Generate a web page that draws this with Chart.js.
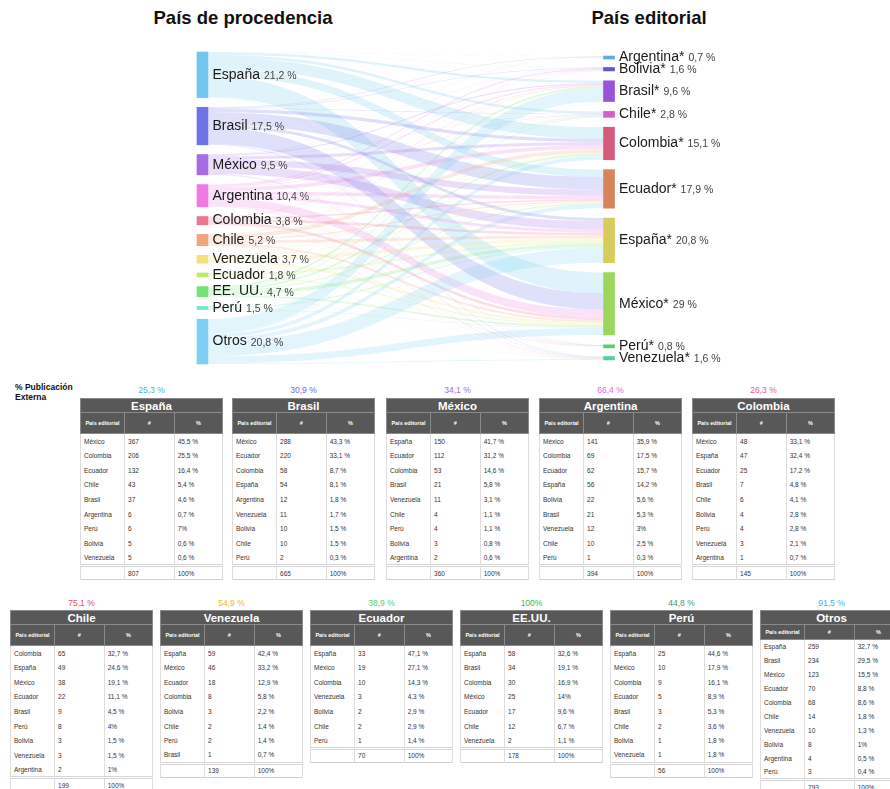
<!DOCTYPE html>
<html lang="es">
<head>
<meta charset="UTF-8">
<title>País de procedencia / País editorial</title>
<script src="https://cdn.jsdelivr.net/npm/chart.js@4.4.0/dist/chart.umd.min.js"></script>
<style>
* { box-sizing: border-box; margin: 0; padding: 0; }
body {
  width: 890px; height: 789px; overflow: hidden; position: relative;
  background: #fff; font-family: "Liberation Sans", Arial, sans-serif;
}
.title { position: absolute; top: 7px; width: 220px; text-align: center; font-weight: bold; font-size: 18.5px; color: #111; }
#sankeyBox { position: absolute; left: 0; top: 0; width: 890px; height: 372px; }
#extLabel { position: absolute; left: 15px; top: 382px; font-size: 8.5px; font-weight: bold; line-height: 10px; color: #111; }
.share { position: absolute; width: 143px; text-align: center; font-size: 8.5px; }
table.t { position: absolute; width: 143px; border-collapse: collapse; table-layout: fixed; background: #fff; border: 1px solid #cfcfcf; }
table.t th { background: #585858; color: #fff; font-weight: bold; border: 1px solid #8a8a8a; }
table.t th.name { height: 14px; font-size: 11.5px; line-height: 12px; }
table.t th.sub { height: 21px; font-size: 5.5px; }
table.t td { height: 14.7px; font-size: 6.5px; color: #333; padding-left: 3px; border-left: 1px solid #ddd; border-right: 1px solid #ddd; }
table.t tr.tot td { border-top: 3px double #d6d6d6; height: 14px; }
table.t.compact th.sub { height: 15px; }
table.t.compact td { height: 14px; }
</style>
</head>
<body>
<div class="title" style="left:133px">País de procedencia</div>
<div class="title" style="left:539px">País editorial</div>
<div id="sankeyBox"><canvas id="sankey"></canvas></div>
<div id="extLabel">% Publicación<br>Externa</div>
<div id="tables"></div>

<script>
// ---------- data ----------
const origins = ['España', 'Brasil', 'México', 'Argentina', 'Colombia', 'Chile', 'Venezuela', 'Ecuador', 'EE. UU.', 'Perú', 'Otros'];
const tableNames = ['España', 'Brasil', 'México', 'Argentina', 'Colombia', 'Chile', 'Venezuela', 'Ecuador', 'EE.UU.', 'Perú', 'Otros'];
const editorials = ['Argentina', 'Bolivia', 'Brasil', 'Chile', 'Colombia', 'Ecuador', 'España', 'México', 'Perú', 'Venezuela'];
const externalShare = ['25,3 %', '30,9 %', '34,1 %', '66,4 %', '26,3 %', '75,1 %', '54,9 %', '38,9 %', '100%', '44,8 %', '91,5 %'];

// rows of each table: país editorial, #, %
const rowsEspana = [['México', 367, '45,5 %'], ['Colombia', 206, '25,5 %'], ['Ecuador', 132, '16,4 %'], ['Chile', 43, '5,4 %'], ['Brasil', 37, '4,6 %'], ['Argentina', 6, '0,7 %'], ['Perú', 6, '7%'], ['Bolivia', 5, '0,6 %'], ['Venezuela', 5, '0,6 %']];
const rowsBrasil = [['México', 288, '43,3 %'], ['Ecuador', 220, '33,1 %'], ['Colombia', 58, '8,7 %'], ['España', 54, '8,1 %'], ['Argentina', 12, '1,8 %'], ['Venezuela', 11, '1,7 %'], ['Bolivia', 10, '1,5 %'], ['Chile', 10, '1,5 %'], ['Perú', 2, '0,3 %']];
const rowsMexico = [['España', 150, '41,7 %'], ['Ecuador', 112, '31,2 %'], ['Colombia', 53, '14,6 %'], ['Brasil', 21, '5,8 %'], ['Venezuela', 11, '3,1 %'], ['Chile', 4, '1,1 %'], ['Perú', 4, '1,1 %'], ['Bolivia', 3, '0,8 %'], ['Argentina', 2, '0,6 %']];
const rowsArgentina = [['México', 141, '35,9 %'], ['Colombia', 69, '17,5 %'], ['Ecuador', 62, '15,7 %'], ['España', 56, '14,2 %'], ['Bolivia', 22, '5,6 %'], ['Brasil', 21, '5,3 %'], ['Venezuela', 12, '3%'], ['Chile', 10, '2,5 %'], ['Perú', 1, '0,3 %']];
const rowsColombia = [['México', 48, '33,1 %'], ['España', 47, '32,4 %'], ['Ecuador', 25, '17,2 %'], ['Brasil', 7, '4,8 %'], ['Chile', 6, '4,1 %'], ['Bolivia', 4, '2,8 %'], ['Perú', 4, '2,8 %'], ['Venezuela', 3, '2,1 %'], ['Argentina', 1, '0,7 %']];
const rowsChile = [['Colombia', 65, '32,7 %'], ['España', 49, '24,6 %'], ['México', 38, '19,1 %'], ['Ecuador', 22, '11,1 %'], ['Brasil', 9, '4,5 %'], ['Perú', 8, '4%'], ['Bolivia', 3, '1,5 %'], ['Venezuela', 3, '1,5 %'], ['Argentina', 2, '1%']];
const rowsVenezuela = [['España', 59, '42,4 %'], ['México', 46, '33,2 %'], ['Ecuador', 18, '12,9 %'], ['Colombia', 8, '5,8 %'], ['Bolivia', 3, '2,2 %'], ['Chile', 2, '1,4 %'], ['Perú', 2, '1,4 %'], ['Brasil', 1, '0,7 %']];
const rowsEcuador = [['España', 33, '47,1 %'], ['México', 19, '27,1 %'], ['Colombia', 10, '14,3 %'], ['Venezuela', 3, '4,3 %'], ['Bolivia', 2, '2,9 %'], ['Chile', 2, '2,9 %'], ['Perú', 1, '1,4 %']];
const rowsEEUU = [['España', 58, '32,6 %'], ['Brasil', 34, '19,1 %'], ['Colombia', 30, '16,9 %'], ['México', 25, '14%'], ['Ecuador', 17, '9,6 %'], ['Chile', 12, '6,7 %'], ['Venezuela', 2, '1,1 %']];
const rowsPeru = [['España', 25, '44,6 %'], ['México', 10, '17,9 %'], ['Colombia', 9, '16,1 %'], ['Ecuador', 5, '8,9 %'], ['Brasil', 3, '5,3 %'], ['Chile', 2, '3,6 %'], ['Bolivia', 1, '1,8 %'], ['Venezuela', 1, '1,8 %']];
const rowsOtros = [['España', 259, '32,7 %'], ['Brasil', 234, '29,5 %'], ['México', 123, '15,5 %'], ['Ecuador', 70, '8,8 %'], ['Colombia', 68, '8,6 %'], ['Chile', 14, '1,8 %'], ['Venezuela', 10, '1,3 %'], ['Bolivia', 8, '1%'], ['Argentina', 4, '0,5 %'], ['Perú', 3, '0,4 %']];

const tableRows = [rowsEspana, rowsBrasil, rowsMexico, rowsArgentina, rowsColombia, rowsChile, rowsVenezuela, rowsEcuador, rowsEEUU, rowsPeru, rowsOtros];

// ---------- styles ----------
const originColors = ['#6fc7ef', '#6f73e6', '#a66be6', '#ef7ae5', '#ec7490', '#f3a47b', '#f3e17b', '#bfeb6b', '#74e275', '#74e6cb', '#7dd0f3'];
const editorialColors = ['#5ab0d8', '#5a5ccc', '#9a52d6', '#d45ccc', '#d65a7a', '#d8845a', '#d8cc5a', '#9cd65a', '#5acc6e', '#5accaa'];
const shareColors = ['#38b8ee', '#6a6ae8', '#a466ee', '#ee5ee0', '#ee5a80', '#ee4a50', '#eebb10', '#44d46a', '#30b860', '#3a9a6a', '#28bcee'];

// ---------- sankey layout (in data units) ----------
const flows = tableRows.map(rows => editorials.map(e => {
  const r = rows.find(x => x[0] === e);
  return r ? r[1] : 0;
}));
const outTotals = flows.map(r => r.reduce((a, b) => a + b, 0));
const inTotals = editorials.map((_, j) => flows.reduce((a, r) => a + r[j], 0));
const grand = outTotals.reduce((a, b) => a + b, 0);

const GAP = 172;                                   // padding between left nodes
const SPAN = grand + GAP * (origins.length - 1);
const R_INSET = 72;
const RGAP = (SPAN - grand - 2 * R_INSET) / (editorials.length - 1);

const leftTop = [], rightTop = [];
let acc = 0;
outTotals.forEach(v => { leftTop.push(acc); acc += v + GAP; });
acc = R_INSET;
inTotals.forEach(v => { rightTop.push(acc); acc += v + RGAP; });

const pct = v => {
  let s = (v / grand * 100).toFixed(1);
  if (s.endsWith('.0')) s = s.slice(0, -2);
  return s.replace('.', ',') + ' %';
};

const flowPlugin = {
  id: 'flows',
  beforeDatasetsDraw(chart) {
    const { ctx, scales: { x, y } } = chart;
    const xL = x.getPixelForValue(0) + 6;
    const xR = x.getPixelForValue(1) - 6;
    const xm = (xL + xR) / 2;
    const outOff = leftTop.slice();
    const inOff = rightTop.slice();
    ctx.save();
    flows.forEach((row, i) => {
      ctx.fillStyle = originColors[i] + '38';
      row.forEach((v, j) => {
        if (!v) return;
        const s0 = y.getPixelForValue(outOff[i]), s1 = y.getPixelForValue(outOff[i] + v);
        const t0 = y.getPixelForValue(inOff[j]), t1 = y.getPixelForValue(inOff[j] + v);
        outOff[i] += v; inOff[j] += v;
        ctx.beginPath();
        ctx.moveTo(xL, s0);
        ctx.bezierCurveTo(xm, s0, xm, t0, xR, t0);
        ctx.lineTo(xR, t1);
        ctx.bezierCurveTo(xm, t1, xm, s1, xL, s1);
        ctx.closePath();
        ctx.fill();
      });
    });
    ctx.restore();
  },
  afterDatasetsDraw(chart) {
    const { ctx, scales: { x, y } } = chart;
    ctx.save();
    ctx.textBaseline = 'middle';
    const put = (xs, yc, name, p) => {
      ctx.font = '14px "Liberation Sans", Arial, sans-serif';
      ctx.fillStyle = '#1a1a1a';
      ctx.fillText(name, xs, yc);
      const w = ctx.measureText(name).width;
      ctx.font = '10.5px "Liberation Sans", Arial, sans-serif';
      ctx.fillStyle = '#444';
      ctx.fillText(p, xs + w + 4, yc + 1);
    };
    const xl = x.getPixelForValue(0) + 10;
    origins.forEach((o, i) => {
      const yc = (y.getPixelForValue(leftTop[i]) + y.getPixelForValue(leftTop[i] + outTotals[i])) / 2;
      put(xl, yc, o, pct(outTotals[i]));
    });
    const xr = x.getPixelForValue(1) + 10;
    editorials.forEach((e, j) => {
      const yc = (y.getPixelForValue(rightTop[j]) + y.getPixelForValue(rightTop[j] + inTotals[j])) / 2;
      put(xr, yc, e + '*', pct(inTotals[j]));
    });
    ctx.restore();
  }
};

const datasets = origins.map((o, k) => ({
  label: o,
  data: [
    [leftTop[k], leftTop[k] + outTotals[k]],
    k < editorials.length ? [rightTop[k], rightTop[k] + inTotals[k]] : null
  ],
  backgroundColor: [originColors[k], editorialColors[k] || originColors[k]],
  barThickness: 11,
  minBarLength: 3,
  clip: false
}));

new Chart(document.getElementById('sankey'), {
  type: 'bar',
  data: { labels: ['País de procedencia', 'País editorial'], datasets },
  plugins: [flowPlugin],
  options: {
    responsive: true,
    maintainAspectRatio: false,
    animation: false,
    layout: { padding: { left: 202.5, right: 281, top: 52, bottom: 8 } },
    datasets: { bar: { grouped: false } },
    scales: {
      x: { type: 'category', offset: false, display: false },
      y: { type: 'linear', min: 0, max: SPAN, reverse: true, display: false }
    },
    plugins: { legend: { display: false }, tooltip: { enabled: false } }
  }
});

// ---------- tables ----------
const tableLeft = [80, 232, 386, 539, 692, 10, 160, 310, 460, 610, 760];
const holder = document.getElementById('tables');
tableRows.forEach((rows, i) => {
  const top = i < 5 ? 398 : 610;
  const lab = document.createElement('div');
  lab.className = 'share';
  lab.style.left = tableLeft[i] + 'px';
  lab.style.top = (top - (i < 5 ? 13 : 12)) + 'px';
  lab.style.color = shareColors[i];
  lab.textContent = externalShare[i];
  holder.appendChild(lab);

  const t = document.createElement('table');
  t.className = 't' + (i === 10 ? ' compact' : '');
  t.style.left = tableLeft[i] + 'px';
  t.style.top = top + 'px';
  let html = '<colgroup><col style="width:31%"><col style="width:35%"><col style="width:34%"></colgroup>';
  html += '<tr><th class="name" colspan="3">' + tableNames[i] + '</th></tr>';
  html += '<tr><th class="sub">País editorial</th><th class="sub">#</th><th class="sub">%</th></tr>';
  rows.forEach(r => { html += '<tr><td>' + r[0] + '</td><td>' + r[1] + '</td><td>' + r[2] + '</td></tr>'; });
  html += '<tr class="tot"><td></td><td>' + outTotals[i] + '</td><td>100%</td></tr>';
  t.innerHTML = html;
  holder.appendChild(t);
});
</script>
</body>
</html>
